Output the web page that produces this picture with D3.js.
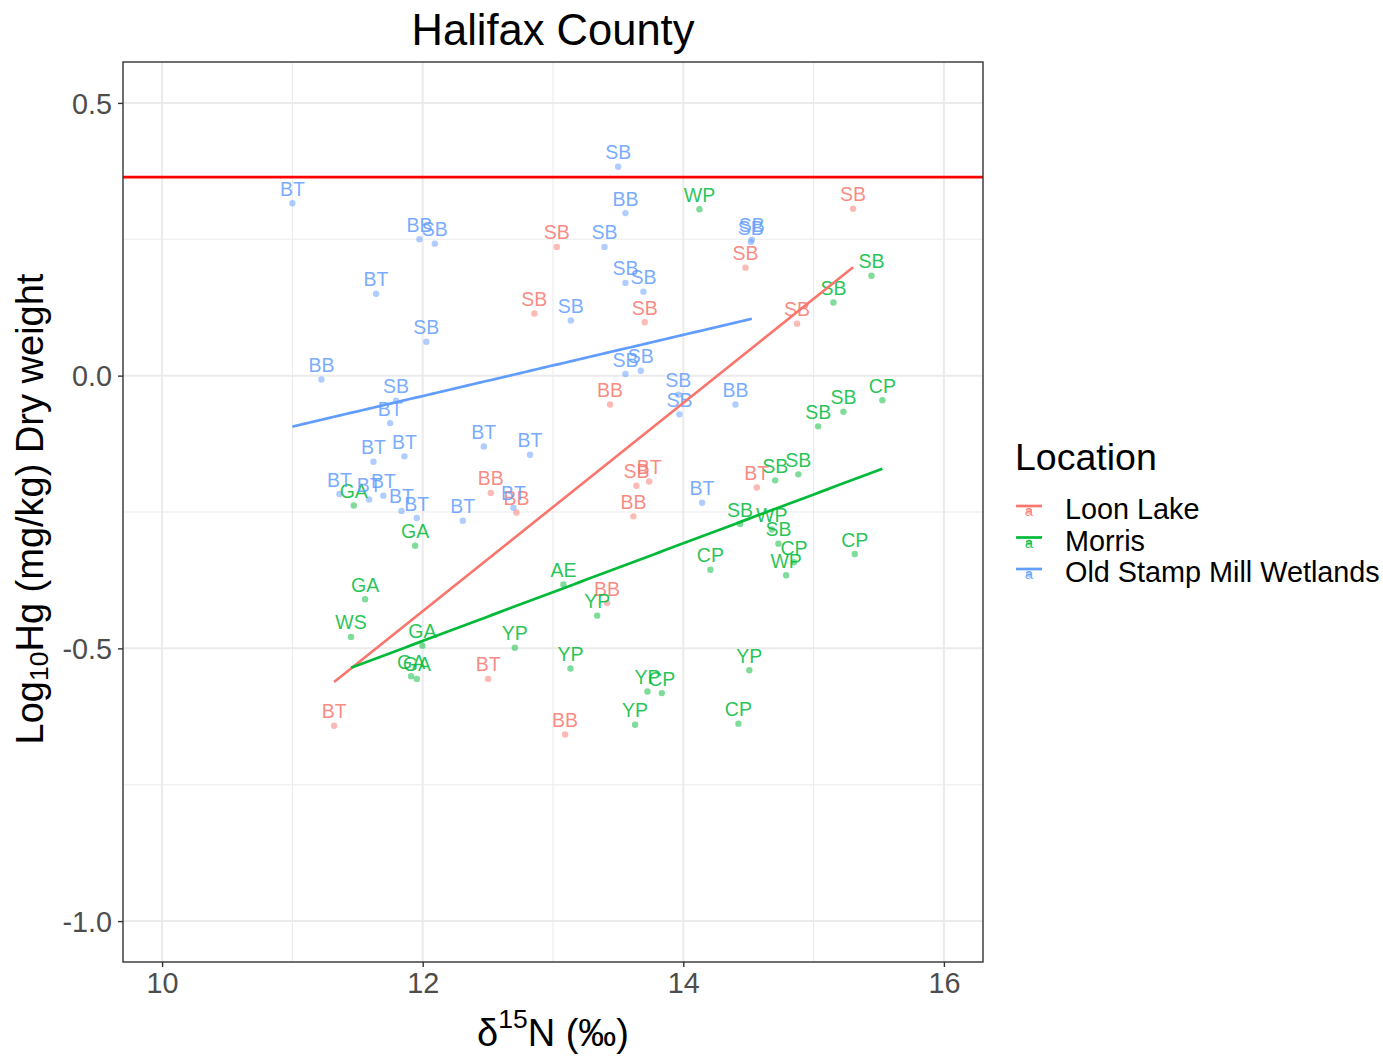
<!DOCTYPE html>
<html>
<head>
<meta charset="utf-8">
<script src="https://cdn.jsdelivr.net/npm/d3@7"></script>
<style>
  body { margin: 0; background: #ffffff; }
  svg { display: block; }
  text { font-family: "Liberation Sans", Arial, Helvetica, sans-serif; }
</style>
</head>
<body>
<svg id="chart" width="1383" height="1056"></svg>
<script>
// ---- data: delta15N (permil) vs log10 Hg (mg/kg dry weight), by location ----
const locations = ["Loon Lake", "Morris", "Old Stamp Mill Wetlands"];
const locationColors = ["#F8766D", "#00BA38", "#619CFF"];

const loonLakeSpecies = ["SB","SB","SB","SB","SB","SB","BB","BB","BB","SB","BT","BB","BT","BB","BT","BT","BB"];
const loonLakeN  = [15.303, 13.029, 14.477, 12.857, 13.704, 14.873, 13.438, 12.523, 12.719, 13.640, 13.738, 13.617, 14.564, 13.415, 12.502, 11.320, 13.093];
const loonLakeHg = [0.306, 0.236, 0.198, 0.114, 0.098, 0.095, -0.053, -0.215, -0.251, -0.202, -0.194, -0.258, -0.205, -0.417, -0.556, -0.642, -0.658];

const morrisSpecies = ["WP","SB","SB","CP","SB","SB","SB","SB","SB","WP","SB","CP","WP","CP","CP",
                       "GA","GA","GA","WS","GA","GA","GA","AE","YP","YP","YP","YP","CP","YP","YP","CP"];
const morrisN  = [14.124, 15.444, 15.152, 15.528, 15.229, 15.035, 14.883, 14.705, 14.436, 14.679, 14.730, 14.849, 14.789, 14.208, 15.316,
                  11.471, 11.942, 11.558, 11.450, 11.998, 11.911, 11.955, 13.080, 13.339, 12.707, 13.134, 13.725, 13.835, 13.630, 14.507, 14.423];
const morrisHg = [0.305, 0.183, 0.134, -0.045, -0.066, -0.093, -0.181, -0.192, -0.272, -0.282, -0.308, -0.342, -0.366, -0.356, -0.327,
                  -0.238, -0.312, -0.410, -0.479, -0.495, -0.551, -0.556, -0.383, -0.440, -0.499, -0.537, -0.579, -0.582, -0.640, -0.540, -0.638];

const stampMillSpecies = ["BT","SB","BB","BB","SB","SB","SB","SB","BT","SB","SB","SB","SB","SB","SB","BB","SB",
                          "SB","SB","BB","BT","BT","BT","BT","BT","BT","BT","BT","BT","BT","BT","BT","BT"];
const stampMillN  = [11.000, 13.500, 13.556, 11.975, 12.093, 13.395, 14.526, 14.518, 11.642, 13.556, 13.694, 13.137, 12.028, 13.556, 13.674, 11.223, 11.796,
                     13.962, 13.970, 14.400, 11.750, 11.622, 11.860, 12.469, 12.824, 11.361, 11.589, 11.698, 11.837, 11.955, 12.308, 12.696, 14.144];
const stampMillHg = [0.316, 0.383, 0.298, 0.250, 0.242, 0.236, 0.249, 0.245, 0.150, 0.170, 0.154, 0.101, 0.062, 0.003, 0.009, -0.007, -0.046,
                     -0.035, -0.071, -0.053, -0.087, -0.158, -0.148, -0.130, -0.145, -0.217, -0.227, -0.220, -0.248, -0.261, -0.266, -0.242, -0.233];

const referenceHg = 0.364;           // horizontal guideline
const xLimits = [10, 16];
const yLimits = [-1, 0.5];
const xTicks = [10, 12, 14, 16];
const xTickLabels = ["10", "12", "14", "16"];
const xMinorTicks = [11, 13, 15];
const yTicks = [0.5, 0, -0.5, -1];
const yTickLabels = ["0.5", "0.0", "-0.5", "-1.0"];
const yMinorTicks = [0.25, -0.25, -0.75];

// ---- assemble groups ----
const groups = [
  { name: locations[0], color: locationColors[0], species: loonLakeSpecies, x: loonLakeN, y: loonLakeHg },
  { name: locations[1], color: locationColors[1], species: morrisSpecies, x: morrisN, y: morrisHg },
  { name: locations[2], color: locationColors[2], species: stampMillSpecies, x: stampMillN, y: stampMillHg }
].map(g => ({ ...g, pts: g.x.map((v, i) => ({ x: v, y: g.y[i], sp: g.species[i] })) }));

// ---- layout ----
const svg = d3.select("#chart");
const panel = { left: 123, right: 983, top: 62, bottom: 962 };
const FONT = "'Liberation Sans', Arial, Helvetica, sans-serif";

const expand = (lim) => { const d = (lim[1] - lim[0]) * 0.05; return [lim[0] - d, lim[1] + d]; };
const x = d3.scaleLinear().domain(expand(xLimits)).range([panel.left, panel.right]);
const y = d3.scaleLinear().domain(expand(yLimits)).range([panel.bottom, panel.top]);

// background
svg.append("rect").attr("width", 1383).attr("height", 1056).attr("fill", "#ffffff");

// grid
const grid = svg.append("g");
grid.selectAll(".xmin").data(xMinorTicks).join("line")
  .attr("x1", d => x(d)).attr("x2", d => x(d)).attr("y1", panel.top).attr("y2", panel.bottom)
  .attr("stroke", "#EBEBEB").attr("stroke-width", 1.1);
grid.selectAll(".ymin").data(yMinorTicks).join("line")
  .attr("x1", panel.left).attr("x2", panel.right).attr("y1", d => y(d)).attr("y2", d => y(d))
  .attr("stroke", "#EBEBEB").attr("stroke-width", 1.1);
grid.selectAll(".xmaj").data(xTicks).join("line")
  .attr("x1", d => x(d)).attr("x2", d => x(d)).attr("y1", panel.top).attr("y2", panel.bottom)
  .attr("stroke", "#EBEBEB").attr("stroke-width", 2);
grid.selectAll(".ymaj").data(yTicks).join("line")
  .attr("x1", panel.left).attr("x2", panel.right).attr("y1", d => y(d)).attr("y2", d => y(d))
  .attr("stroke", "#EBEBEB").attr("stroke-width", 2);

// clip to panel
svg.append("clipPath").attr("id", "panelClip").append("rect")
  .attr("x", panel.left).attr("y", panel.top)
  .attr("width", panel.right - panel.left).attr("height", panel.bottom - panel.top);
const plot = svg.append("g").attr("clip-path", "url(#panelClip)");

// points
groups.forEach(g => {
  plot.append("g").selectAll("circle").data(g.pts).join("circle")
    .attr("cx", d => x(d.x)).attr("cy", d => y(d.y)).attr("r", 3.2)
    .attr("fill", g.color).attr("fill-opacity", 0.5);
});

// species labels above points
groups.forEach(g => {
  plot.append("g").selectAll("text").data(g.pts).join("text")
    .attr("x", d => x(d.x)).attr("y", d => y(d.y) - 7.5)
    .attr("text-anchor", "middle")
    .attr("font-size", 19.5)
    .attr("fill", g.color).attr("fill-opacity", 0.85)
    .text(d => d.sp);
});

// least-squares trend per location, spanning that location's N range
function linearFit(xs, ys) {
  const mx = d3.mean(xs), my = d3.mean(ys);
  let sxy = 0, sxx = 0;
  xs.forEach((v, i) => { sxy += (v - mx) * (ys[i] - my); sxx += (v - mx) * (v - mx); });
  const b = sxy / sxx;
  return { a: my - b * mx, b };
}
const line = d3.line().x(d => x(d[0])).y(d => y(d[1]));
groups.forEach(g => {
  const fit = linearFit(g.x, g.y);
  const [x0, x1] = d3.extent(g.x);
  const pts = d3.range(0, 80).map(i => { const xv = x0 + (x1 - x0) * i / 79; return [xv, fit.a + fit.b * xv]; });
  plot.append("path").datum(pts).attr("d", line)
    .attr("fill", "none").attr("stroke", g.color).attr("stroke-width", 2.7);
});

// reference line
plot.append("line")
  .attr("x1", panel.left).attr("x2", panel.right)
  .attr("y1", y(referenceHg)).attr("y2", y(referenceHg))
  .attr("stroke", "#FF0000").attr("stroke-width", 2.8);

// panel border
svg.append("rect")
  .attr("x", panel.left).attr("y", panel.top)
  .attr("width", panel.right - panel.left).attr("height", panel.bottom - panel.top)
  .attr("fill", "none").attr("stroke", "#333333").attr("stroke-width", 1.4);

// axes
const xAxis = d3.axisBottom(x).tickValues(xTicks)
  .tickFormat((d, i) => xTickLabels[i]).tickSize(5).tickPadding(6);
const gx = svg.append("g").attr("transform", `translate(0,${panel.bottom})`).call(xAxis);
gx.select(".domain").remove();
gx.selectAll(".tick line").attr("stroke", "#333333").attr("stroke-width", 1.4);
gx.selectAll(".tick text").attr("font-family", FONT).attr("font-size", 28.8).attr("fill", "#4D4D4D")
  .attr("dy", "0.71em");

const yAxis = d3.axisLeft(y).tickValues(yTicks)
  .tickFormat((d, i) => yTickLabels[i]).tickSize(5).tickPadding(6);
const gy = svg.append("g").attr("transform", `translate(${panel.left},0)`).call(yAxis);
gy.select(".domain").remove();
gy.selectAll(".tick line").attr("stroke", "#333333").attr("stroke-width", 1.4);
gy.selectAll(".tick text").attr("font-family", FONT).attr("font-size", 28.8).attr("fill", "#4D4D4D")
  .attr("dy", "0.35em");

// title
svg.append("text")
  .attr("x", (panel.left + panel.right) / 2).attr("y", 45)
  .attr("text-anchor", "middle").attr("font-size", 43.5).attr("fill", "#000")
  .text("Halifax County");

// x axis title: δ15N (‰)
const xt = svg.append("text")
  .attr("x", (panel.left + panel.right) / 2).attr("y", 1046)
  .attr("text-anchor", "middle").attr("font-size", 38).attr("fill", "#000");
xt.append("tspan").text("δ");
xt.append("tspan").attr("font-size", 26.5).attr("dy", -18).text("15");
xt.append("tspan").attr("dy", 18).text("N (‰)");

// y axis title: Log10Hg (mg/kg) Dry weight
const yt = svg.append("text")
  .attr("transform", `translate(43,509) rotate(-90)`)
  .attr("text-anchor", "middle").attr("font-size", 38).attr("fill", "#000");
yt.append("tspan").text("Log");
yt.append("tspan").attr("font-size", 26.5).attr("dy", 5).text("10");
yt.append("tspan").attr("dy", -5).text("Hg (mg/kg) Dry weight");

// legend
const legend = svg.append("g");
legend.append("text").attr("x", 1015).attr("y", 470)
  .attr("font-size", 37.5).attr("fill", "#000").text("Location");
const legendBaselines = [519, 550.5, 582];
groups.forEach((g, i) => {
  const b = legendBaselines[i];
  const key = legend.append("g");
  key.append("circle").attr("cx", 1029).attr("cy", b - 8).attr("r", 3)
    .attr("fill", g.color).attr("fill-opacity", 0.5);
  key.append("text").attr("x", 1029).attr("y", b - 3)
    .attr("text-anchor", "middle").attr("font-size", 15).attr("fill", g.color).attr("fill-opacity", 0.85)
    .text("a");
  key.append("line").attr("x1", 1016).attr("x2", 1042).attr("y1", b - 13).attr("y2", b - 13)
    .attr("stroke", g.color).attr("stroke-width", 2.7);
  legend.append("text").attr("x", 1065).attr("y", b)
    .attr("font-size", 28.8).attr("fill", "#000").text(g.name);
});
</script>
</body>
</html>
